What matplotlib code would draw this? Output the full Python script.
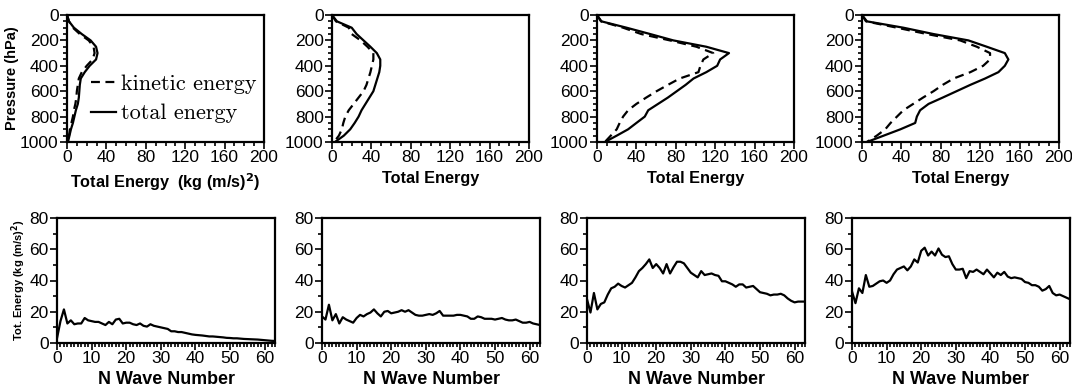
import matplotlib
matplotlib.use("Agg")
import matplotlib.pyplot as plt
import numpy as np
from matplotlib.ticker import MultipleLocator

plt.rcParams['font.family'] = ['Liberation Sans', 'DejaVu Sans']

# vertical profiles, pressure levels in hPa
pressure = [0, 50, 100, 150, 200, 250, 300, 350, 400, 450, 500,
            550, 600, 650, 700, 750, 800, 850, 900, 950, 1000]

total_energy = [
    [0, 2, 7, 15, 24, 29.5, 31, 29.5, 23, 18, 14, 13, 12.5, 12, 11, 9, 7.5, 6, 4, 2.5, 1],
    [0, 5, 20, 25, 32, 39, 45.5, 49, 49, 48, 46, 44, 42, 38, 34, 30, 27, 23, 18.5, 12, 3],
    [0, 4.5, 30, 54, 77.5, 111, 134, 125, 122, 111, 98, 90, 81, 72, 62, 52, 48.5, 40, 31.6, 20, 8],
    [0, 5, 42, 72.6, 108, 126.7, 145, 148.6, 145, 138.5, 125, 110, 96, 82, 67.6, 59, 55.7, 54, 39, 22, 5],
]
kinetic_energy = [
    [0, 2, 6, 13, 22, 27, 28, 26, 20, 15, 12, 11, 10, 9.5, 8.5, 7, 6, 4.5, 3, 2, 0.5],
    [0, 4, 17, 20, 29, 36, 42, 42, 40.5, 39, 37, 35, 32, 27, 22, 17, 13.5, 11.5, 10, 7, 2],
    [0, 4, 26.5, 45, 74, 101, 118, 108, 105, 103, 84, 72, 60.5, 50, 40, 31.6, 26.5, 23, 20, 14, 8],
    [0, 4, 35.5, 66, 99.6, 116.6, 130, 130, 123, 110, 93, 82, 72.6, 62, 52, 42, 35.5, 29, 23.6, 15, 5],
]

# spectra over wave number 0..63
wave_number = list(range(64))
spectra = [
    [3, 14, 21.5, 12.5, 14.5, 12, 12.5, 12.5, 16, 14.5, 14, 13.5, 13.5, 12.5, 11.5, 13.5,
     12, 15, 15.5, 12.5, 13, 13, 12, 11.5, 12.5, 11, 10.5, 12, 11, 10.5, 10, 9.5,
     9, 7.5, 7.5, 7, 7, 6.5, 6, 5.5, 5.2, 5, 4.8, 4.5, 4.2, 4.2, 4, 3.8,
     3.6, 3.3, 3.2, 3, 3, 2.8, 2.6, 2.5, 2.4, 2.3, 2.2, 2, 1.8, 1.6, 1.4, 1.3],
    [17, 15, 24.5, 14.5, 18.5, 12.5, 16.5, 15, 14, 13, 16, 18, 17, 18.5, 19.5, 21.5,
     19, 17, 20, 20.5, 19, 19.5, 20, 21, 20, 21, 19.5, 18, 17.5, 17.5, 18, 18.5,
     18, 19, 20.5, 17.5, 17.5, 17.5, 17.5, 18, 18, 17.5, 17, 15.5, 15.5, 17, 16.5, 15.5,
     15.5, 15.5, 15, 15.5, 16, 15, 14.5, 14.5, 15, 14, 13, 13, 13.5, 12.5, 12, 11.5],
    [28, 19.5, 32, 21.5, 25, 26, 31, 35, 36, 38, 36.5, 35.5, 37, 38.5, 42, 46,
     48, 50.5, 53.5, 48, 50.5, 48, 44.5, 50.5, 44.5, 48.5, 52, 52, 51, 48, 45, 43.5,
     42, 46, 43.5, 44, 44.5, 43.5, 43, 39.5, 39.5, 38.5, 37.5, 36, 37.5, 37.5, 35.5, 36,
     36.5, 34.5, 32.5, 32, 31.5, 30.5, 31, 31, 31.5, 30.5, 28.5, 27, 26, 26.5, 26.5, 26.5],
    [33, 25.5, 35, 32, 43.5, 36, 36.5, 38, 39.5, 40, 38.5, 40, 44, 47, 48, 49,
     46.5, 49, 53.5, 51.5, 59, 61, 56, 58.5, 56, 60.5, 56.5, 55, 55.5, 50.5, 47, 47,
     47.5, 41.5, 46, 45.5, 47, 45.5, 44, 47, 44.5, 42, 45, 43.5, 45.5, 42.5, 41.5, 42,
     41.5, 41, 39, 38.5, 37, 37, 36, 33.5, 34.5, 36.5, 32, 30.5, 31, 30, 29, 28],
]

W, H = 1072, 391
fig = plt.figure(figsize=(W / 100, H / 100), dpi=100)


def style(ax, size):
    for s in ax.spines.values():
        s.set_linewidth(1.6)
    ax.tick_params(which='both', direction='out', width=1.2, labelsize=size,
                   pad=1, top=False, right=False)
    ax.tick_params(which='major', length=5)
    ax.tick_params(which='minor', length=3)


top_left = [67, 332, 597, 862]
bot_left = [57, 322, 587, 852]

for i in range(4):
    ax = fig.add_axes([top_left[i] / W, 1 - 142 / H, 197 / W, 127 / H])
    ax.plot(kinetic_energy[i], pressure, color='black', lw=1.6, ls=(0, (4, 2.5)),
            label='kinetic energy')
    ax.plot(total_energy[i], pressure, color='black', lw=1.6, label='total energy')
    ax.set_xlim(0, 200)
    ax.set_ylim(1000, 0)
    ax.xaxis.set_major_locator(MultipleLocator(40))
    ax.xaxis.set_minor_locator(MultipleLocator(10))
    ax.yaxis.set_major_locator(MultipleLocator(200))
    ax.yaxis.set_minor_locator(MultipleLocator(50))
    style(ax, 12.5)
    if i == 0:
        ax.set_xlabel(r'Total Energy  (kg (m/s)$^\mathbf{2}$)', fontsize=11.7,
                      fontweight='bold', labelpad=4)
        ax.set_ylabel('Pressure (hPa)', fontsize=10.5, fontweight='bold', labelpad=1)
        ax.legend(loc='center left', bbox_to_anchor=(0.12, 0.34), frameon=False,
                  prop={'family': 'cmr10', 'size': 16}, handlelength=1.15,
                  handletextpad=0.2, labelspacing=0.45, borderpad=0,
                  borderaxespad=0)
    else:
        ax.set_xlabel('Total Energy', fontsize=11.7, fontweight='bold', labelpad=4)

for i in range(4):
    ax = fig.add_axes([bot_left[i] / W, 1 - 343 / H, 218 / W, 125 / H])
    ax.plot(wave_number, spectra[i], color='black', lw=1.6)
    ax.set_xlim(0, 63)
    ax.set_ylim(0, 80)
    ax.xaxis.set_major_locator(MultipleLocator(10))
    ax.xaxis.set_minor_locator(MultipleLocator(1))
    ax.yaxis.set_major_locator(MultipleLocator(20))
    ax.yaxis.set_minor_locator(MultipleLocator(10))
    style(ax, 12.5)
    ax.set_xlabel('N Wave Number', fontsize=12.9, fontweight='bold', labelpad=3)
    if i == 0:
        ax.set_ylabel(r'Tot. Energy (kg (m/s)$^\mathbf{2}$)', fontsize=8,
                      fontweight='bold', labelpad=1)

fig.savefig('out.png', dpi=100)
